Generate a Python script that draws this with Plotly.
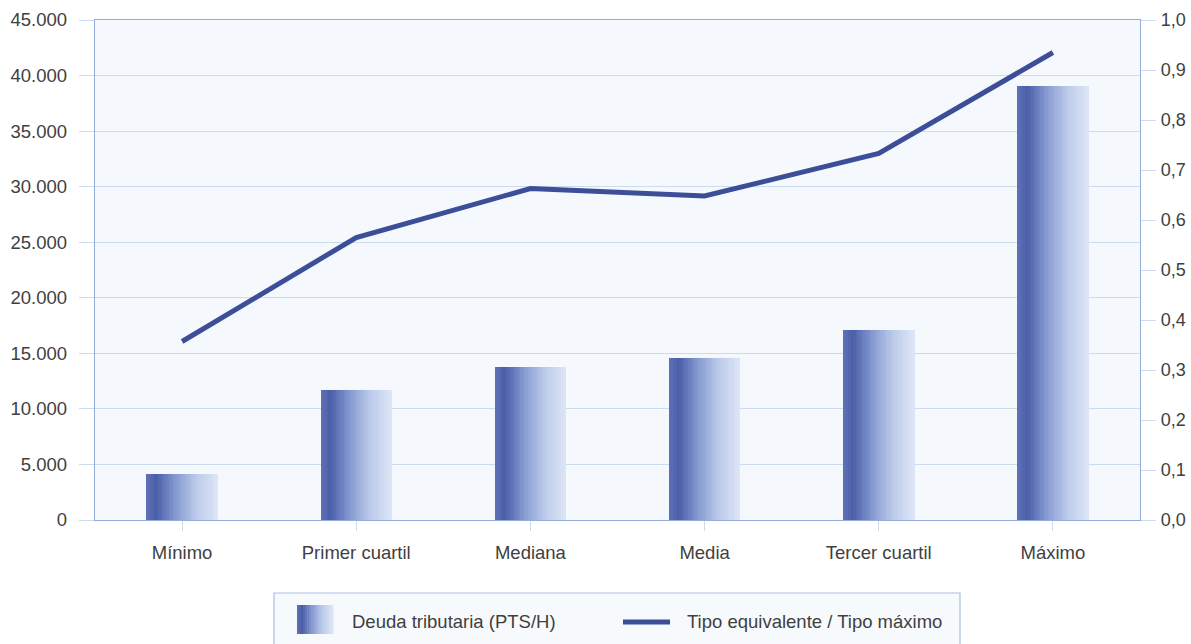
import plotly.graph_objects as go

# Data
categories = ["Mínimo", "Primer cuartil", "Mediana", "Media", "Tercer cuartil", "Máximo"]
deuda = [4100, 11700, 13800, 14550, 17100, 39100]
tipo_ratio = [0.357, 0.565, 0.663, 0.648, 0.733, 0.935]
left_ticks = [0, 5000, 10000, 15000, 20000, 25000, 30000, 35000, 40000, 45000]
right_ticks = [0.0, 0.1, 0.2, 0.3, 0.4, 0.5, 0.6, 0.7, 0.8, 0.9, 1.0]

LINE_COLOR = "#3c4e98"
GRID_COLOR = "#cddbef"
AXIS_COLOR = "#94acd9"
TEXT_COLOR = "#3f3f3f"
FONT = "Liberation Sans, Arial, sans-serif"

# Horizontal shading of each bar: colour stops (position across bar, rgb)
STOPS = [
    (0.00, (96, 114, 182)),
    (0.14, (74, 94, 168)),
    (0.40, (132, 152, 208)),
    (0.70, (188, 202, 234)),
    (1.00, (222, 231, 246)),
]


def shade(t):
    for (t0, c0), (t1, c1) in zip(STOPS[:-1], STOPS[1:]):
        if t <= t1:
            f = (t - t0) / (t1 - t0) if t1 > t0 else 0
            r, g, b = (round(a + (b_ - a) * f) for a, b_ in zip(c0, c1))
            return f"rgb({r},{g},{b})"
    r, g, b = STOPS[-1][1]
    return f"rgb({r},{g},{b})"


BAR_W = 0.41
N_STRIPS = 28

fig = go.Figure()

# Bars drawn as thin vertical strips so the fill fades from left to right
for i in range(N_STRIPS):
    t = (i + 0.5) / N_STRIPS
    fig.add_trace(go.Bar(
        x=categories, y=deuda,
        width=BAR_W / N_STRIPS * 1.08,
        offset=-BAR_W / 2 + i * BAR_W / N_STRIPS,
        marker=dict(color=shade(t), line=dict(width=0)),
        showlegend=False, hoverinfo="skip",
    ))

fig.add_trace(go.Scatter(
    x=categories, y=tipo_ratio, yaxis="y2", mode="lines",
    line=dict(color=LINE_COLOR, width=5),
    showlegend=False,
))

# Pixel helpers for the legend box (plot area 95..1140 x 20..520)
def px(xv):
    return (xv - 95) / 1045


def py(yv):
    return (520 - yv) / 500


shapes = [
    dict(type="rect", xref="paper", yref="paper",
         x0=px(274), x1=px(960), y0=py(650), y1=py(593),
         fillcolor="#f7fafd", line=dict(color="#a9bde2", width=1.2), layer="below"),
    dict(type="line", xref="paper", yref="paper",
         x0=px(623), x1=px(670), y0=py(622), y1=py(622),
         line=dict(color=LINE_COLOR, width=5)),
]
# Legend swatch for the bars
SW0, SW1 = 297, 333
n_sw = 18
for i in range(n_sw):
    t = (i + 0.5) / n_sw
    shapes.append(dict(
        type="rect", xref="paper", yref="paper",
        x0=px(SW0 + (SW1 - SW0) * i / n_sw), x1=px(SW0 + (SW1 - SW0) * (i + 1) / n_sw + 0.6),
        y0=py(634), y1=py(605),
        fillcolor=shade(t), line=dict(width=0)))

annotations = [
    dict(text="Deuda tributaria (PTS/H)", xref="paper", yref="paper",
         x=px(350), y=py(621), xanchor="left", yanchor="middle", showarrow=False,
         font=dict(family=FONT, size=18.5, color=TEXT_COLOR)),
    dict(text="Tipo equivalente / Tipo máximo", xref="paper", yref="paper",
         x=px(685), y=py(621), xanchor="left", yanchor="middle", showarrow=False,
         font=dict(family=FONT, size=18.5, color=TEXT_COLOR)),
]

fig.update_layout(
    width=1191, height=644,
    margin=dict(l=95, r=51, t=20, b=124, autoexpand=False),
    paper_bgcolor="white", plot_bgcolor="#f5f9fd",
    barmode="overlay", bargap=0,
    separators=",.",
    font=dict(family=FONT, size=18.5, color=TEXT_COLOR),
    shapes=shapes, annotations=annotations,
    xaxis=dict(
        type="category", showgrid=False, showline=True, mirror=True,
        linecolor=AXIS_COLOR, linewidth=1.3,
        ticks="outside", ticklen=10, tickcolor=GRID_COLOR,
        ticklabelstandoff=6, zeroline=False, automargin=False,
    ),
    yaxis=dict(
        range=[0, 45000], tickvals=left_ticks, tickformat=",.0f",
        showgrid=True, gridcolor=GRID_COLOR, gridwidth=1,
        showline=True, linecolor=AXIS_COLOR, linewidth=1.3,
        ticks="outside", ticklen=15, tickcolor=GRID_COLOR,
        ticklabelstandoff=8, zeroline=False, automargin=False,
    ),
    yaxis2=dict(
        range=[0, 1.0], tickvals=right_ticks, tickformat=".1f",
        overlaying="y", side="right", showgrid=False,
        showline=True, linecolor=AXIS_COLOR, linewidth=1.3,
        ticks="outside", ticklen=15, tickcolor=GRID_COLOR,
        ticklabelstandoff=1, zeroline=False, automargin=False,
        tickfont=dict(size=18),
    ),
)

fig.write_html("out.html")
